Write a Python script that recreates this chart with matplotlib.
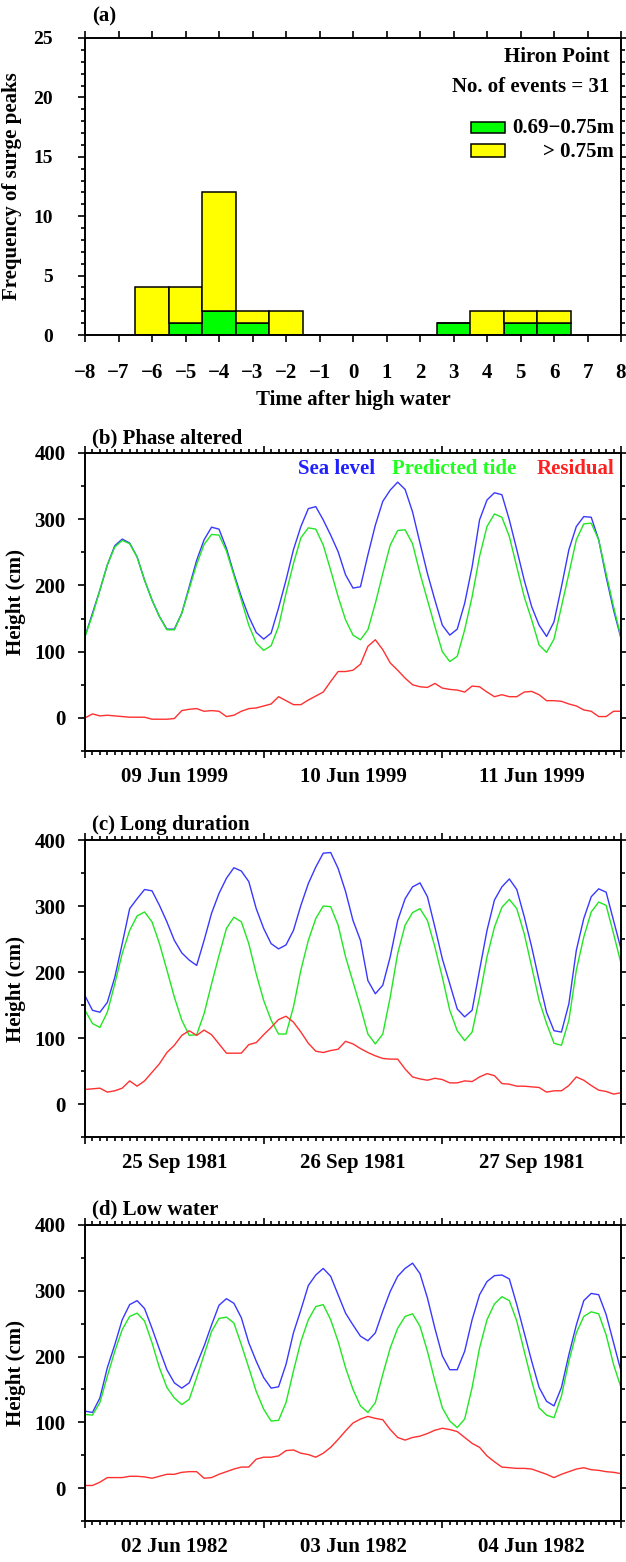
import numpy as np
import matplotlib
matplotlib.use('Agg')
import matplotlib.pyplot as plt
from matplotlib.patches import Rectangle
import matplotlib.transforms as mtransforms

plt.rcParams['font.family'] = ['Liberation Serif', 'DejaVu Serif']
plt.rcParams['font.weight'] = 'bold'
plt.rcParams['font.size'] = 15
plt.rcParams['axes.linewidth'] = 1.4

# ---------------- Panel (a) data ----------------
bin_centres = [-6, -5, -4, -3, -2, -1, 0, 1, 2, 3, 4, 5, 6]
count_mid = [0, 1, 2, 1, 0, 0, 0, 0, 0, 1, 0, 1, 1]      # 0.69-0.75 m
count_high = [4, 3, 10, 1, 2, 0, 0, 0, 0, 0, 2, 1, 1]    # > 0.75 m
xtick_a = list(range(-8, 9))
ytick_a = [0, 5, 10, 15, 20, 25]

# ---------------- Time series data (hourly) ----------------
hours = list(range(73))

b_sea = [123, 158, 193, 231, 260, 270, 264, 243, 208, 178, 153, 134, 134,
         158, 198, 238, 269, 288, 285, 256, 218, 183, 153, 129, 119,
         128, 166, 208, 254, 289, 316, 319, 299, 276, 251, 216, 196,
         198, 246, 291, 327, 344, 356, 345, 311, 264, 218, 178, 140,
         125, 134, 173, 228, 299, 329, 340, 337, 299, 254, 208, 168,
         140, 123, 145, 198, 254, 289, 304, 303, 269, 213, 163, 120]
b_tide = [123, 155, 193, 231, 258, 268, 263, 243, 208, 178, 153, 133, 133,
          158, 195, 232, 262, 277, 276, 252, 215, 178, 140, 113, 102,
          109, 138, 188, 233, 272, 287, 285, 261, 223, 183, 148, 125,
          118, 133, 173, 218, 261, 283, 284, 263, 218, 178, 138, 100,
          85, 93, 133, 183, 244, 289, 308, 303, 274, 228, 183, 148,
          110, 99, 119, 168, 218, 269, 293, 294, 269, 218, 168, 122]
b_res = [0, 6, 3, 4, 3, 2, 1, 1, 1, -2, -2, -2, -1,
         11, 13, 14, 10, 11, 10, 2, 4, 10, 14, 15, 18,
         21, 32, 26, 20, 20, 27, 33, 39, 55, 70, 70, 72,
         81, 108, 118, 103, 83, 72, 60, 50, 47, 46, 52, 45,
         43, 42, 39, 48, 47, 39, 32, 35, 32, 32, 39, 40,
         35, 26, 26, 25, 21, 18, 12, 10, 2, 2, 10, 10]

c_sea = [164, 142, 139, 154, 192, 243, 296, 311, 325, 323, 301, 276, 248,
         229, 218, 210, 248, 289, 319, 342, 358, 353, 337, 296, 266,
         243, 235, 241, 263, 301, 334, 359, 380, 381, 357, 322, 278,
         248, 187, 167, 180, 223, 278, 311, 329, 335, 314, 268, 220,
         182, 144, 132, 142, 203, 263, 309, 329, 341, 325, 284, 238,
         187, 139, 111, 109, 152, 233, 281, 314, 326, 321, 278, 235]
c_tide = [142, 122, 116, 139, 182, 228, 263, 285, 291, 276, 243, 203, 162,
          127, 104, 105, 137, 182, 225, 266, 283, 276, 243, 197, 157,
          127, 106, 106, 147, 203, 248, 281, 300, 299, 271, 223, 185,
          147, 106, 91, 106, 162, 228, 271, 290, 296, 278, 238, 192,
          142, 111, 96, 109, 162, 223, 268, 298, 310, 296, 258, 208,
          157, 122, 92, 89, 127, 203, 253, 291, 306, 301, 258, 213]
c_res = [22, 23, 24, 18, 20, 24, 35, 27, 35, 48, 61, 78, 89,
         104, 111, 104, 112, 105, 91, 77, 77, 77, 90, 93, 105,
         116, 128, 133, 124, 109, 92, 80, 78, 81, 83, 95, 91,
         84, 78, 73, 69, 68, 68, 53, 41, 38, 36, 39, 37,
         32, 32, 35, 34, 41, 46, 43, 31, 30, 27, 27, 26,
         25, 18, 20, 20, 28, 41, 36, 28, 21, 19, 15, 17]

d_sea = [117, 115, 137, 183, 218, 256, 279, 285, 273, 243, 211, 180, 160,
         152, 160, 188, 216, 248, 278, 288, 281, 259, 221, 193, 168,
         152, 154, 188, 236, 271, 308, 324, 334, 322, 294, 266, 248,
         231, 224, 236, 269, 299, 322, 334, 342, 326, 289, 243, 201,
         180, 180, 208, 256, 294, 314, 323, 324, 318, 279, 236, 193,
         153, 132, 125, 153, 203, 248, 285, 296, 294, 264, 221, 178]
d_tide = [112, 111, 130, 170, 208, 241, 261, 266, 254, 221, 183, 153, 137,
          127, 135, 168, 203, 238, 258, 260, 251, 218, 183, 147, 120,
          102, 103, 130, 178, 223, 256, 276, 279, 256, 223, 183, 150,
          125, 115, 130, 173, 213, 243, 261, 265, 246, 208, 163, 122,
          102, 92, 105, 153, 213, 256, 280, 291, 285, 254, 208, 163,
          122, 111, 107, 140, 193, 236, 261, 268, 265, 233, 188, 153]
d_res = [4, 4, 9, 16, 16, 16, 18, 18, 17, 15, 18, 21, 21,
         24, 25, 25, 15, 16, 21, 25, 29, 32, 32, 44, 47,
         47, 49, 57, 58, 53, 51, 47, 53, 62, 74, 87, 99,
         105, 109, 106, 104, 89, 77, 73, 77, 79, 83, 88, 91,
         89, 86, 77, 68, 62, 49, 40, 32, 31, 30, 30, 29,
         25, 21, 16, 21, 25, 29, 31, 28, 27, 25, 24, 22]

b_days = ['09 Jun 1999', '10 Jun 1999', '11 Jun 1999']
c_days = ['25 Sep 1981', '26 Sep 1981', '27 Sep 1981']
d_days = ['02 Jun 1982', '03 Jun 1982', '04 Jun 1982']
day_label_hours = [12, 36, 60]
day_major_hours = [0, 24, 48, 72]

SEA_C = '#3838ff'
TIDE_C = '#22e622'
RES_C = '#ff3030'

fig = plt.figure(figsize=(6.26, 15.62), dpi=100)
L, W = 85 / 626, 536 / 626

# ---------------- Panel (a) ----------------
ax = fig.add_axes([L, 1 - 335 / 1562, W, 297 / 1562])
ax.bar(bin_centres, count_mid, width=1.0, color='#00ff00',
       edgecolor='black', linewidth=1.1)
ax.bar(bin_centres, count_high, width=1.0, bottom=count_mid,
       color='#ffff00', edgecolor='black', linewidth=1.1)
ax.set_xlim(-8, 8)
ax.set_ylim(0, 25)
ax.set_xticks(xtick_a)
ax.set_yticks(ytick_a)
ax.set_yticks(range(0, 26), minor=True)
ax.tick_params(axis='both', which='both', direction='out',
               top=True, right=True, width=1.2)
ax.tick_params(axis='x', which='major', length=5, pad=15)
ax.tick_params(axis='y', which='major', length=5, pad=18, labelsize=14)
ax.tick_params(axis='y', which='minor', length=3)
ax.set_xlabel('Time after high water', fontweight='bold')
ax.xaxis.set_label_coords(0.5, -0.185)
ax.set_ylabel('Frequency of surge peaks', fontweight='bold')
ax.yaxis.set_label_coords(-0.1175, 0.5)
ax.text(0.013, 1.071, '(a)', transform=ax.transAxes, ha='left', va='center')
ax.text(0.978, 0.936, 'Hiron Point', transform=ax.transAxes,
        ha='right', va='center')
ax.text(0.978, 0.835, 'No. of events = 31', transform=ax.transAxes,
        ha='right', va='center')
ax.add_patch(Rectangle((0.720, 0.680), 0.0634, 0.038, transform=ax.transAxes,
                       facecolor='#00ff00', edgecolor='black', linewidth=1.1))
ax.add_patch(Rectangle((0.720, 0.599), 0.0634, 0.044, transform=ax.transAxes,
                       facecolor='#ffff00', edgecolor='black', linewidth=1.1))
ax.text(0.987, 0.697, '0.69\u22120.75m', transform=ax.transAxes,
        ha='right', va='center')
ax.text(0.987, 0.616, '> 0.75m', transform=ax.transAxes,
        ha='right', va='center')


def time_panel(bottom_px, height_px, sea, tide, res, days, title, title_y,
               legend=False):
    ax = fig.add_axes([L, 1 - bottom_px / 1562, W, height_px / 1562])
    ax.plot(hours, sea, color=SEA_C, linewidth=1.0)
    ax.plot(hours, tide, color=TIDE_C, linewidth=1.0)
    ax.plot(hours, res, color=RES_C, linewidth=1.0)
    ax.set_xlim(0, 72)
    ax.set_ylim(-50, 400)
    ax.set_xticks(day_major_hours)
    ax.set_xticklabels([])
    ax.set_xticks(hours, minor=True)
    ax.set_yticks([0, 100, 200, 300, 400])
    ax.set_yticks([-50, 50, 150, 250, 350], minor=True)
    ax.tick_params(axis='both', which='both', direction='out',
                   top=True, right=True, width=1.2)
    ax.tick_params(axis='both', which='major', length=5)
    ax.tick_params(axis='both', which='minor', length=3)
    ax.tick_params(axis='y', which='major', pad=9)
    trans = mtransforms.blended_transform_factory(ax.transData, ax.transAxes)
    for h, lab in zip(day_label_hours, days):
        ax.text(h, -26 / height_px, lab, transform=trans,
                ha='center', va='center')
    ax.set_ylabel('Height (cm)', fontweight='bold')
    ax.yaxis.set_label_coords(-0.110, 0.5)
    ax.text(0.013, title_y, title, transform=ax.transAxes,
            ha='left', va='center')
    if legend:
        ax.text(0.541, 0.946, 'Sea level', color='#2020ff',
                transform=ax.transAxes, ha='right', va='center')
        ax.text(0.804, 0.946, 'Predicted tide', color='#20ff20',
                transform=ax.transAxes, ha='right', va='center')
        ax.text(0.987, 0.946, 'Residual', color='#ff2020',
                transform=ax.transAxes, ha='right', va='center')
    return ax


time_panel(751, 298, b_sea, b_tide, b_res, b_days, '(b) Phase altered',
           1.050, legend=True)
time_panel(1137, 297, c_sea, c_tide, c_res, c_days, '(c) Long duration',
           1.050)
time_panel(1521, 296, d_sea, d_tide, d_res, d_days, '(d) Low water',
           1.054)

fig.savefig('out.png', dpi=100)
